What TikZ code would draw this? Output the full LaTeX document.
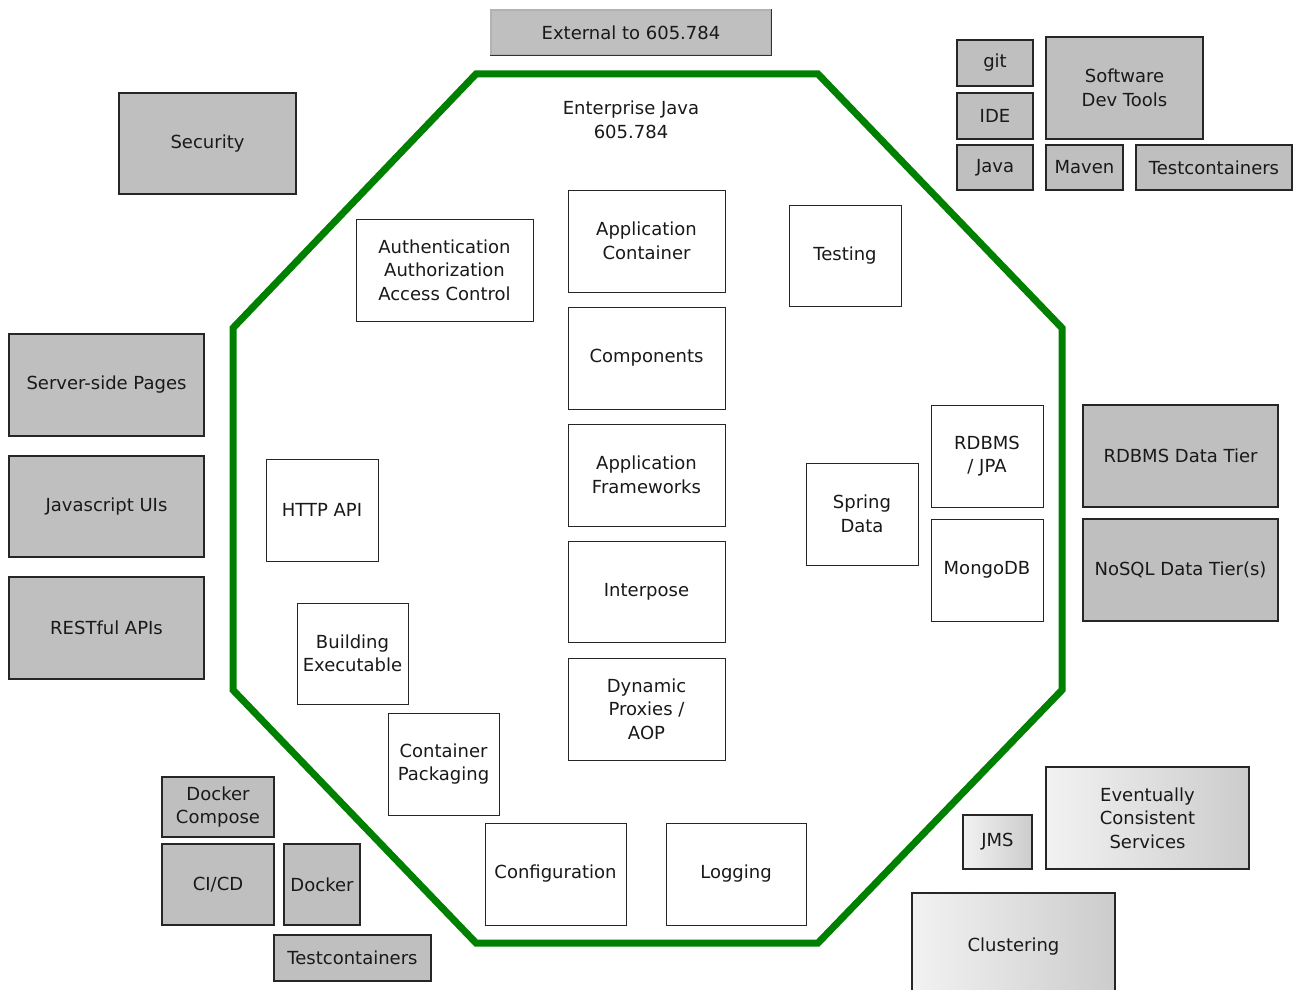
\documentclass[tikz,border=0pt]{standalone}
\usepackage{fontspec}
\setmainfont{DejaVu Sans}
\pgfdeclarehorizontalshading{boxshade}{100bp}{color(0bp)=(gray!24); color(18bp)=(gray!6); color(100bp)=(gray!55)}
\tikzset{
  base/.style={draw=black!85, line width=1.2pt, text=black!90, align=center, inner sep=1pt,
    font=\fontsize{18}{23.5}\selectfont},
  box size/.style 2 args={minimum width=#1, minimum height=#2},
  graybox/.style={base, fill=gray!50},
  whitebox/.style={base, fill=white, line width=1pt},
  shadebox/.style={base, shading=boxshade},
  bevel/.style={gray!40!black, line width=1.5pt},
  octagon/.style={green!50!black, line width=7pt, line join=miter},
}
\begin{document}
\begin{tikzpicture}[x=1pt,y=-1pt]
\useasboundingbox (0,0) rectangle (1293,990);
\clip (0,0) rectangle (1293,990);
\draw[octagon] (476,74) -- (818,74) -- (1062,328) -- (1062,690) -- (818,943) -- (476,943) -- (233,690) -- (233,328) -- cycle;
\node[base, draw=none] (title) at (631,120) {Enterprise Java\\605.784};
\node[graybox, draw=gray!60, box size={280pt}{45pt}] (ext) at (631,32.5) {External to 605.784};
\draw[bevel] (ext.north east) -- (ext.south east) -- (ext.south west);
\node[graybox, box size={177pt}{101pt}] (security) at (207.5,143.5) {Security};
\node[graybox, box size={76pt}{46pt}] (git) at (995,63) {git};
\node[graybox, box size={76pt}{46pt}] (ide) at (995,116) {IDE};
\node[graybox, box size={76pt}{45pt}] (java) at (995,167.5) {Java};
\node[graybox, box size={157pt}{102pt}] (devtools) at (1124.5,88) {Software\\Dev Tools};
\node[graybox, box size={77pt}{45pt}] (maven) at (1084.5,167.5) {Maven};
\node[graybox, box size={156pt}{45pt}] (tctop) at (1214,167.5) {Testcontainers};
\node[whitebox, box size={177pt}{102pt}] (auth) at (444.5,270) {Authentication\\Authorization\\Access Control};
\node[whitebox, box size={157pt}{102pt}] (appcont) at (646.5,241) {Application\\Container};
\node[whitebox, box size={157pt}{102pt}] (comp) at (646.5,358) {Components};
\node[whitebox, box size={157pt}{102pt}] (frame) at (646.5,475) {Application\\Frameworks};
\node[whitebox, box size={157pt}{101pt}] (interpose) at (646.5,591.5) {Interpose};
\node[whitebox, box size={157pt}{102pt}] (proxies) at (646.5,709) {Dynamic\\Proxies /\\AOP};
\node[whitebox, box size={112pt}{101pt}] (testing) at (845,255.5) {Testing};
\node[whitebox, box size={112pt}{102pt}] (rdbms) at (987,456) {RDBMS\\/ JPA};
\node[whitebox, box size={112pt}{102pt}] (spring) at (862,514) {Spring\\Data};
\node[whitebox, box size={112pt}{102pt}] (mongo) at (987,570) {MongoDB};
\node[whitebox, box size={112pt}{102pt}] (http) at (322,510) {HTTP API};
\node[whitebox, box size={111pt}{101pt}] (building) at (352.5,653.5) {Building\\Executable};
\node[whitebox, box size={111pt}{102pt}] (contpack) at (443.5,764) {Container\\Packaging};
\node[whitebox, box size={141pt}{102pt}] (config) at (555.5,874) {Configuration};
\node[whitebox, box size={140pt}{102pt}] (logging) at (736,874) {Logging};
\node[graybox, box size={195pt}{102pt}] (pages) at (106.5,385) {Server-side Pages};
\node[graybox, box size={195pt}{101pt}] (jsui) at (106.5,506.5) {Javascript UIs};
\node[graybox, box size={195pt}{102pt}] (rest) at (106.5,628) {RESTful APIs};
\node[graybox, box size={195pt}{102pt}] (rdbmstier) at (1180.5,456) {RDBMS Data Tier};
\node[graybox, box size={195pt}{102pt}] (nosqltier) at (1180.5,570) {NoSQL Data Tier(s)};
\node[graybox, box size={112pt}{60pt}] (compose) at (218,807) {Docker\\Compose};
\node[graybox, box size={112pt}{81pt}] (cicd) at (218,884.5) {CI/CD};
\node[graybox, box size={76pt}{81pt}] (docker) at (322,884.5) {Docker};
\node[graybox, box size={157pt}{46pt}] (tcbottom) at (352.5,958) {Testcontainers};
\node[shadebox, box size={69pt}{54pt}] (jms) at (997.5,842) {JMS};
\node[shadebox, box size={203pt}{102pt}] (eventual) at (1147.5,818) {Eventually\\Consistent\\Services};
\node[shadebox, box size={203pt}{107pt}] (clustering) at (1013.5,946.5) {Clustering};
\end{tikzpicture}
\end{document}
